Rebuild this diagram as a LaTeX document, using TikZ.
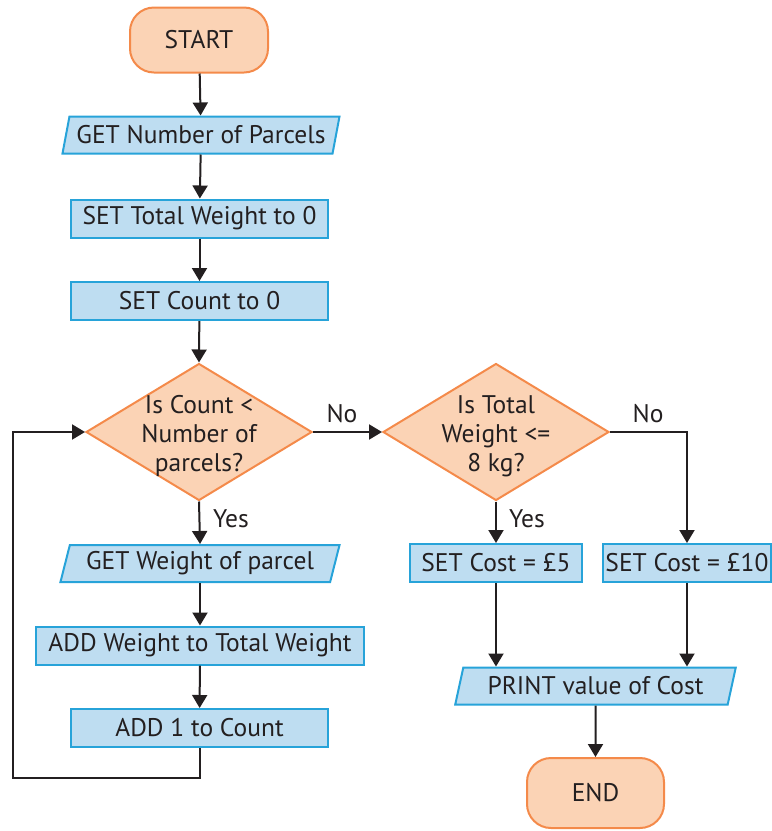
\documentclass[tikz,border=0pt]{standalone}
\usepackage{fontspec}
\setmainfont{PT Sans}
\usetikzlibrary{shapes.geometric,arrows.meta}
\definecolor{termfill}{HTML}{FBD3B5}
\definecolor{termline}{HTML}{F48A4A}
\definecolor{boxfill}{HTML}{BEDDF1}
\definecolor{boxline}{HTML}{27A3D9}
\definecolor{ink}{HTML}{231F20}
\begin{document}
\begin{tikzpicture}[x=1pt,y=-1pt,
  every node/.style={text=ink,font=\fontsize{25.5}{29}\selectfont},
  terminal/.style={draw=termline,fill=termfill,line width=2pt,rounded corners=24pt,
    minimum width=138pt,minimum height=65pt},
  process/.style={draw=boxline,fill=boxfill,line width=2pt,minimum height=38pt,inner sep=1pt},
  io/.style={trapezium,trapezium left angle=72,trapezium right angle=108,trapezium stretches=true,
    draw=boxline,fill=boxfill,line width=2pt,minimum height=37pt,inner sep=1pt},
  decision/.style={diamond,draw=termline,fill=termfill,line width=2pt,
    minimum width=226pt,minimum height=137pt,inner sep=0pt},
  qtext/.style={align=center,inner sep=0pt},
  lbl/.style={inner sep=0pt},
  arr/.style={draw=ink,line width=2pt,-{Triangle[length=13pt,width=15pt]}},
  ln/.style={draw=ink,line width=2pt}]
\useasboundingbox (0,0) rectangle (772,831);

% left column
\node[terminal] (start) at (199,40) {START};
\node[io,minimum width=278pt] (getn) at (201,135) {GET Number of Parcels};
\node[process,minimum width=257pt] (settw) at (199.5,218.5) {SET Total Weight to 0};
\node[process,minimum width=257pt] (setc) at (199.5,301) {SET Count to 0};
\node[decision] (d1) at (199,432) {};
\node[qtext] (d1t) at (199,436) {Is Count <\\Number of\\parcels?};
\node[io,minimum width=280pt] (getw) at (200,563.5) {GET Weight of parcel};
\node[process,minimum width=328pt] (addw) at (200,645.5) {ADD Weight to Total Weight};
\node[process,minimum width=257pt] (add1) at (199.5,728) {ADD 1 to Count};

% right column
\node[decision] (d2) at (496,432) {};
\node[qtext] (d2t) at (496,436) {Is Total\\Weight <=\\8 kg?};
\node[process,minimum width=172pt] (cost5) at (496,563) {SET Cost = £5};
\node[process,minimum width=168pt] (cost10) at (687,563) {SET Cost = £10};
\node[io,minimum width=281pt] (print) at (595.5,686) {PRINT value of Cost};
\node[terminal,minimum width=137pt,minimum height=70pt] (end) at (595.5,793) {END};

% branch labels
\node[lbl] (no1) at (342,414) {No};
\node[lbl] (no2) at (648,414) {No};
\node[lbl] (yes1) at (231,519) {Yes};
\node[lbl] (yes2) at (527,519) {Yes};

% connectors
\draw[arr] (start) -- (getn);
\draw[arr] (getn) -- (settw);
\draw[arr] (settw) -- (setc);
\draw[arr] (setc) -- (d1.north);
\draw[arr] (d1.south) -- (getw.north);
\draw[arr] (getw) -- (addw);
\draw[arr] (addw) -- (add1);
\coordinate (loopa) at (199.5,778);
\coordinate (loopb) at (13,778);
\draw[arr] (add1.south) -- (loopa) -- (loopb) |- (d1.west);
\draw[arr] (d1.east) -- (d2.west);
\draw[arr] (d2.south) -- (cost5.north);
\draw[arr] (d2.east) -| (cost10.north);
\draw[arr] (cost5.south) -- (cost5.south |- print.north);
\draw[arr] (cost10.south) -- (cost10.south |- print.north);
\draw[arr] (print.south) -- (end.north);
\end{tikzpicture}
\end{document}
